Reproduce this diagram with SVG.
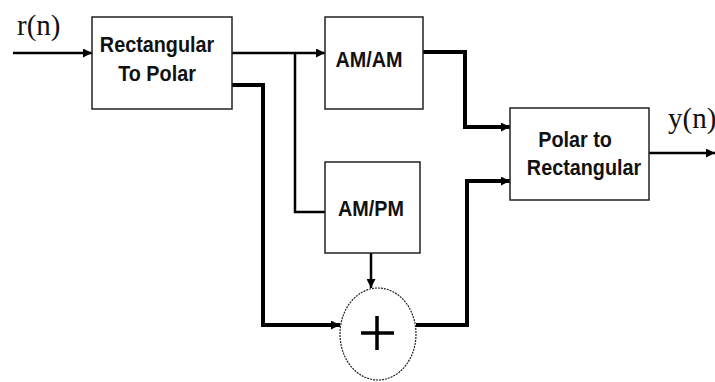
<svg xmlns="http://www.w3.org/2000/svg" width="715" height="382" viewBox="0 0 715 382">
<style>
.box{fill:#fff;stroke:#222;stroke-width:1.5}
.lbl{font-family:"Liberation Sans",Arial,sans-serif;font-weight:bold;font-size:22px;fill:#111;text-anchor:middle}
.sig{font-family:"Liberation Serif","Times New Roman",serif;font-size:29px;fill:#111}
.w{fill:none;stroke:#000;stroke-width:2.5}
.t{fill:none;stroke:#000;stroke-width:4}
</style>
<defs>
<marker id="ah" viewBox="0 0 10 10" refX="10" refY="5" markerWidth="10" markerHeight="9" markerUnits="userSpaceOnUse" orient="auto">
<path d="M0,0 L10,5 L0,10 z" fill="#000"/>
</marker>
</defs>
<rect width="715" height="382" fill="#fff"/>
<g id="connectors">
<path class="w" d="M13,53 H92" marker-end="url(#ah)"/>
<path class="w" d="M232,53 H325" marker-end="url(#ah)"/>
<path class="w" d="M295,53 V212 H325"/>
<path class="t" d="M232,85 H263 V325 H340" marker-end="url(#ah)"/>
<path class="w" d="M371,253 V288" marker-end="url(#ah)"/>
<path class="t" d="M420,52 H465 V127 H510" marker-end="url(#ah)"/>
<path class="t" d="M416,325 H467 V181 H510" marker-end="url(#ah)"/>
<path class="w" d="M649,153 H715" marker-end="url(#ah)"/>
</g>
<g id="rect2polar">
<rect class="box" x="92" y="17" width="140" height="92"/>
<text class="lbl" transform="translate(157,52) scale(0.9,1)">Rectangular</text>
<text class="lbl" transform="translate(157,81) scale(0.9,1)">To Polar</text>
</g>
<g id="amam">
<rect class="box" x="325" y="17" width="98" height="92"/>
<text class="lbl" transform="translate(369,67) scale(0.9,1)">AM/AM</text>
</g>
<g id="ampm">
<rect class="box" x="325" y="162" width="95" height="91"/>
<text class="lbl" transform="translate(371,216) scale(0.9,1)">AM/PM</text>
</g>
<g id="adder">
<ellipse cx="378" cy="334" rx="38" ry="46" fill="#fff" stroke="#222" stroke-width="1.2" stroke-dasharray="2,1"/>
<path d="M361,333 H394 M377,316 V350" stroke="#000" stroke-width="3.5"/>
</g>
<g id="polar2rect">
<rect class="box" x="510" y="108" width="139" height="92"/>
<text class="lbl" transform="translate(575,147) scale(0.9,1)">Polar to</text>
<text class="lbl" transform="translate(584,175) scale(0.9,1)">Rectangular</text>
</g>
<text class="sig" x="17" y="35">r(n)</text>
<text class="sig" x="668" y="128">y(n)</text>
</svg>
